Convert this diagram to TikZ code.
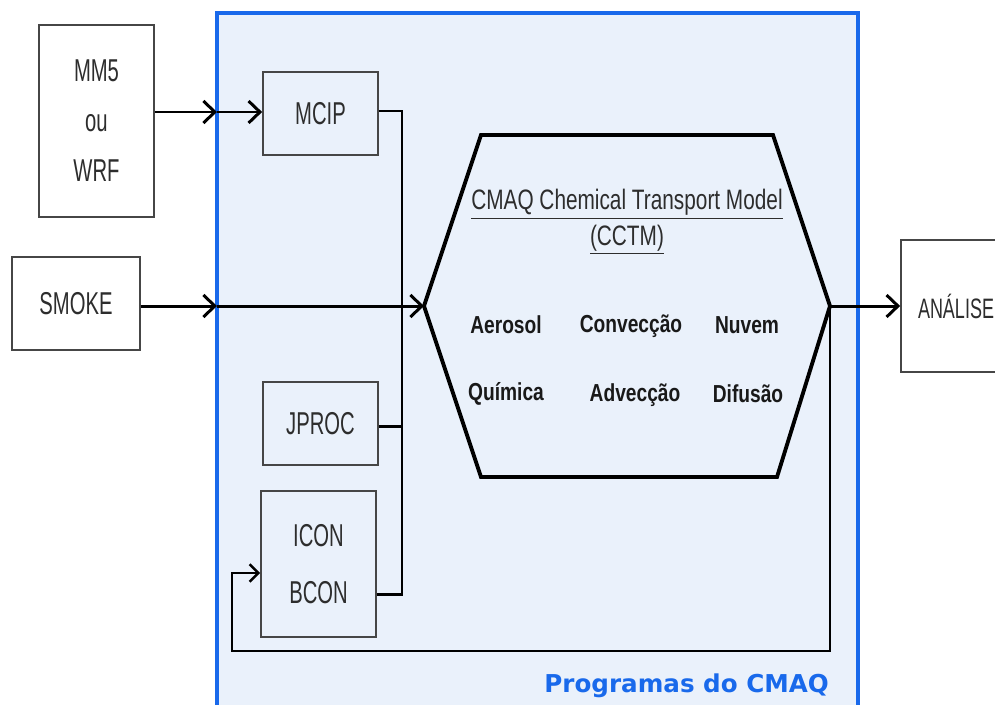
\documentclass[tikz,border=0pt]{standalone}
\usepackage{fontspec}
\setmainfont{Liberation Sans}
\newfontfamily\narrowfont[FakeStretch=0.64]{Liberation Sans}
\newfontfamily\titlefont[FakeStretch=0.74]{Liberation Sans}
\newfontfamily\procfont[FakeStretch=0.78]{Liberation Sans}
\newfontfamily\tagfont{DejaVu Sans}
\usetikzlibrary{arrows.meta}
\definecolor{cmaqblue}{RGB}{25,105,235}
\definecolor{cmaqfill}{RGB}{234,241,251}
\definecolor{boxgray}{RGB}{70,70,70}
\definecolor{textgray}{RGB}{45,45,45}

\begin{document}
\begin{tikzpicture}[
    x=0.02cm, y=-0.02cm,
    box/.style={draw=boxgray, line width=1pt, inner sep=0pt, text=textgray,
        font=\narrowfont\fontsize{18}{28.5}\selectfont, align=center},
    wire/.style={line width=1.7pt},
    arr/.style={wire, -{Straight Barb[length=6.5pt, width=12.5pt, line width=1.7pt]}},
    thinarr/.style={line width=1.4pt, -{Straight Barb[length=5pt, width=10pt, line width=1.4pt]}},
    proc/.style={font=\procfont\bfseries\fontsize{14}{16}\selectfont, text=black!90}
]
    \useasboundingbox (0,0) rectangle (995,704);

    % Programas do CMAQ
    \draw[cmaqblue, line width=2.2pt, fill=cmaqfill] (217,13) rectangle (858,730);
    \node[anchor=base east, font=\tagfont\bfseries\fontsize{14}{16}\selectfont, text=cmaqblue]
        (tag) at (835,692) {Programas do CMAQ};

    % Caixas
    \node[box, minimum width=2.3cm, minimum height=3.84cm] (met) at (96.5,121) {MM5\\ou\\WRF};
    \node[box, minimum width=2.56cm, minimum height=1.86cm] (smoke) at (76,303.5) {SMOKE};
    \node[box, minimum width=2.3cm, minimum height=1.66cm] (mcip) at (320.5,113.5) {MCIP};
    \node[box, minimum width=2.3cm, minimum height=1.66cm] (jproc) at (320.5,423.5) {JPROC};
    \node[box, minimum width=2.3cm, minimum height=2.92cm] (bcon) at (318.5,564) {ICON\\[0.15cm]BCON};
    \node[box, minimum width=2.2cm, minimum height=2.64cm,
        font=\narrowfont\fontsize{16}{20}\selectfont] (analise) at (956,306) {ANÁLISE};

    % CCTM
    \coordinate (hexL) at (424,306);
    \coordinate (hexR) at (830,306);
    \draw[line width=2.2pt, line join=miter] (hexL) -- (481,135) -- (773,135) -- (hexR)
        -- (777,477) -- (481,477) -- cycle;
    \node[font=\titlefont\fontsize{16}{20}\selectfont, text=textgray, align=center] (cctm)
        at (627,222) {\underline{CMAQ Chemical Transport Model}\\\underline{(CCTM)}};
    \node[proc] (aer) at (506,325) {Aerosol};
    \node[proc] (conv) at (631,326) {Convecção};
    \node[proc] (nuv) at (747,325) {Nuvem};
    \node[proc] (quim) at (506,394) {Química};
    \node[proc] (adv) at (635,395) {Advecção};
    \node[proc] (dif) at (748,394) {Difusão};

    % Ligacoes
    \coordinate (inmet) at (217,112);
    \coordinate (insmoke) at (217,306);
    \coordinate (busend) at (402,594);
    \coordinate (fbk) at (232,651);
    \coordinate (fbin) at (232,573);
    \draw[arr] (met.east |- inmet) -- (inmet);
    \draw[arr] (inmet) -- (mcip.west |- inmet);
    \draw[arr] (smoke.east |- insmoke) -- (insmoke);
    \draw[arr] (insmoke) -- (hexL);
    \draw[wire] (mcip.east |- 0,111) -| (busend) -- (bcon.east |- busend);
    \draw[wire] (jproc.east |- 0,426) -- (402,426);
    \draw[arr] (hexR) -- (analise.west |- hexR);
    \draw[thinarr] (hexR) |- (fbk) -- (fbin) -- (bcon.west |- fbin);
\end{tikzpicture}
\end{document}
